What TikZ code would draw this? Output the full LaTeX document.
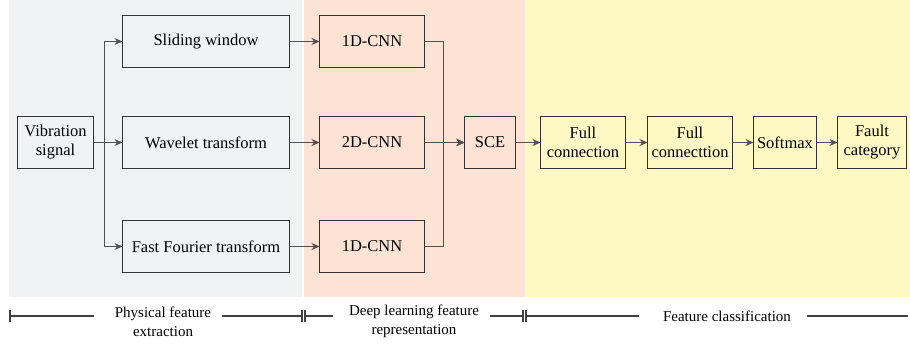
\documentclass[tikz,border=0pt]{standalone}
\usepackage{fontspec}
\setmainfont{Liberation Serif}
\usepackage{xcolor}
\usetikzlibrary{positioning, arrows.meta}

\definecolor{bggray}{HTML}{F1F2F4}
\definecolor{bgpeach}{HTML}{FDE3D4}
\definecolor{bgyellow}{HTML}{FEF8C4}
\definecolor{linegray}{HTML}{505050}

\begin{document}
\begin{tikzpicture}[
        x=1pt, y=-1pt,
        node distance=28pt,
        >={Stealth[length=8pt, width=7pt]},
        box/.style={draw=black!80, line width=1.6pt, minimum height=52pt, inner sep=2pt,
                    outer sep=0pt, align=center, font=\fontsize{16.5}{19}\selectfont},
        arr/.style={->, draw=linegray, line width=1.5pt},
        lbl/.style={font=\fontsize{15}{19}\selectfont, align=center, inner sep=1pt},
        brk/.style={draw=black!75, line width=1.3pt}
    ]
        \useasboundingbox (0,0) rectangle (910,343);

        % background panels
        \fill[bggray]   (9,0)   rectangle (302,297);
        \fill[bgpeach]  (304,0) rectangle (525,297);
        \fill[bgyellow] (526,0) rectangle (910,297);

        % input and physical features
        \node[box, minimum width=76pt] (vib) at (55.5,142.5) {Vibration\\signal};
        \node[box, minimum width=167pt, right=29pt of vib] (wt) {Wavelet transform};
        \node[box, minimum width=167pt, above=49pt of wt]  (sw) {Sliding window};
        \node[box, minimum width=167pt, below=52pt of wt]  (fft) {Fast Fourier transform};

        % deep learning
        \node[box, minimum width=105pt, right=30pt of wt]  (cnn2) {2D-CNN};
        \node[box, minimum width=105pt, right=30pt of sw]  (cnn1) {1D-CNN};
        \node[box, minimum width=105pt, right=30pt of fft] (cnn3) {1D-CNN};
        \node[box, minimum width=51pt, right=40pt of cnn2] (sce) {SCE};

        % classification
        \node[box, minimum width=85pt, right=25pt of sce] (fc1)   {Full\\connection};
        \node[box, minimum width=85pt, right=22pt of fc1] (fc2)   {Full\\connecttion};
        \node[box, minimum width=63pt, right=21pt of fc2] (soft)  {Softmax};
        \node[box, minimum width=69pt, right=21pt of soft] (fault) {Fault\\category};

        \draw[arr] (vib.east) -- (wt.west);
        \draw[arr] (vib.east) -- ++(11,0) |- (sw.west);
        \draw[arr] (vib.east) -- ++(11,0) |- (fft.west);
        \draw[arr] (sw)  -- (cnn1);
        \draw[arr] (wt)  -- (cnn2);
        \draw[arr] (fft) -- (cnn3);
        \draw[arr] (cnn2) -- (sce);
        \draw[arr] (cnn1.east) -- ++(19,0) |- (sce.west);
        \draw[arr] (cnn3.east) -- ++(19,0) |- (sce.west);
        \draw[arr] (sce) -- (fc1);
        \draw[arr] (fc1) -- (fc2);
        \draw[arr] (fc2) -- (soft);
        \draw[arr] (soft) -- (fault);

        % stage brackets
        \node[lbl] (pfe) at (163,322) {Physical feature\\extraction};
        \node[lbl] (dlf) at (414,321) {Deep learning feature\\representation};
        \node[lbl] (fcl) at (727,316) {Feature classification};

        \coordinate (b0) at (10,316);
        \coordinate (b1) at (302,316);
        \coordinate (b2) at (305,316);
        \coordinate (b3) at (523,316);
        \coordinate (b4) at (526,316);
        \coordinate (b5) at (908,316);

        \draw[brk] (b0) -- (94,316);
        \draw[brk] (222,316) -- (b1);
        \draw[brk] (b2) -- (333,316);
        \draw[brk] (490,316) -- (b3);
        \draw[brk] (b4) -- (639,316);
        \draw[brk] (807,316) -- (b5);
        \foreach \c in {b0,b1,b2,b3,b4}
            \draw[brk] ([yshift=-6pt]\c) -- ([yshift=6pt]\c);
    \end{tikzpicture}
\end{document}
